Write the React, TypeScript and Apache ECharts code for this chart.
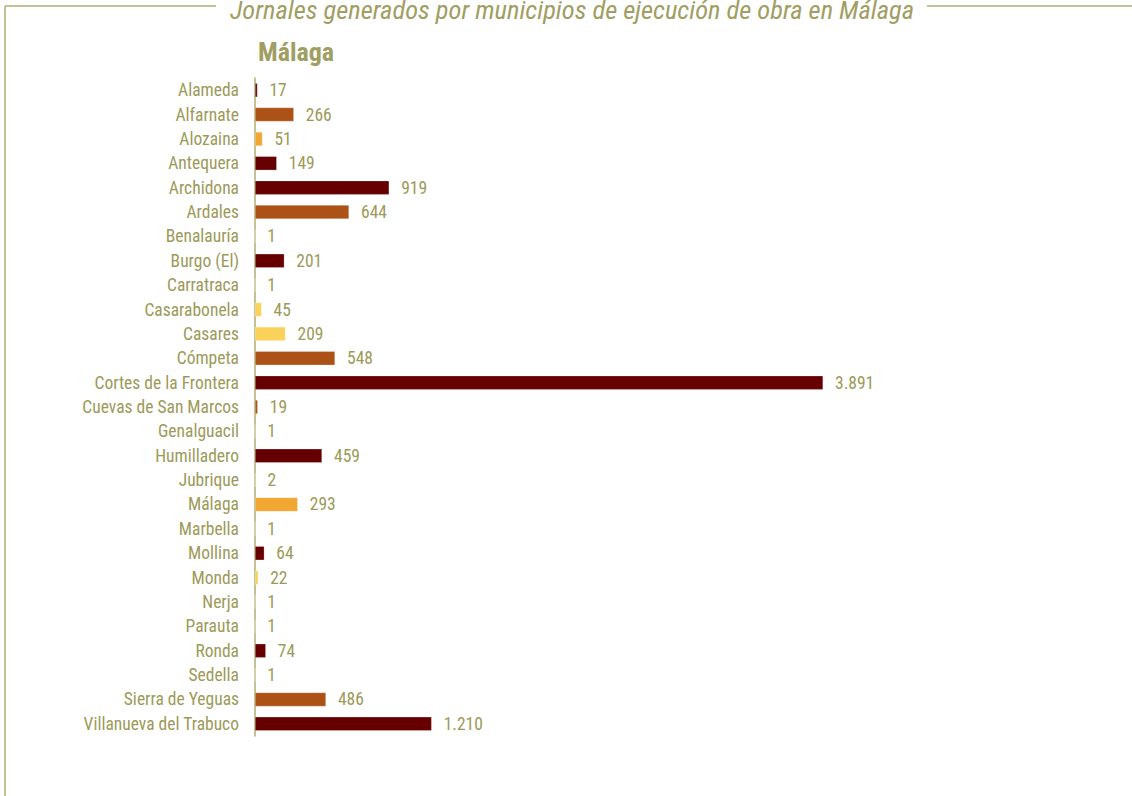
import React, { useEffect, useRef } from "react";
import * as echarts from "echarts";

const categories = [
  "Alameda", "Alfarnate", "Alozaina", "Antequera", "Archidona", "Ardales", "Benalauría",
  "Burgo (El)", "Carratraca", "Casarabonela", "Casares", "Cómpeta", "Cortes de la Frontera",
  "Cuevas de San Marcos", "Genalguacil", "Humilladero", "Jubrique", "Málaga", "Marbella",
  "Mollina", "Monda", "Nerja", "Parauta", "Ronda", "Sedella", "Sierra de Yeguas",
  "Villanueva del Trabuco",
];
const values = [17, 266, 51, 149, 919, 644, 1, 201, 1, 45, 209, 548, 3891, 19, 1, 459, 2, 293, 1, 64, 22, 1, 1, 74, 1, 486, 1210];
// colour group per municipality: 0 dark red, 1 orange, 2 light orange, 3 yellow
const groups = [0, 1, 2, 0, 0, 1, 3, 0, 3, 3, 3, 1, 0, 1, 3, 0, 3, 2, 3, 0, 3, 1, 3, 0, 1, 1, 0];
const palette = ["#660000", "#AD5217", "#F2A733", "#FAD25A"];

const TEXT = "#9C9A58";
const LINE = "#B0AC72";
const FONT = "'Liberation Sans Narrow', 'Roboto Condensed', 'DejaVu Sans Condensed', sans-serif";

const fmt = (v: number) => String(v).replace(/\B(?=(\d{3})+(?!\d))/g, ".");

export default function App() {
  const ref = useRef<HTMLDivElement>(null);
  useEffect(() => {
    const chart = echarts.init(ref.current!, undefined, { renderer: "svg" });
    chart.setOption({
      animation: false,
      backgroundColor: "#ffffff",
      grid: { left: 255, top: 78, width: 657, height: 658, containLabel: false },
      xAxis: {
        type: "value",
        min: 0,
        max: 4500,
        show: false,
      },
      yAxis: {
        type: "category",
        data: categories,
        inverse: true,
        axisLine: { show: true, lineStyle: { color: LINE, width: 1.5 } },
        axisTick: { show: false },
        axisLabel: { color: TEXT, fontSize: 17.5, fontFamily: FONT, margin: 16 },
        splitLine: { show: false },
      },
      series: [
        {
          type: "bar",
          barWidth: 14,
          data: values.map((v, i) => ({
            value: v,
            itemStyle: { color: palette[groups[i]], borderColor: "rgba(255,255,255,0.5)", borderWidth: 0.5 },
          })),
          label: {
            show: true,
            position: "right",
            distance: 12,
            color: TEXT,
            fontSize: 17.5,
            fontFamily: FONT,
            formatter: (p: any) => fmt(p.value),
          },
        },
      ],
      graphic: [
        { type: "line", shape: { x1: 5, y1: 6, x2: 216, y2: 6 }, style: { stroke: LINE, lineWidth: 1.5 } },
        { type: "line", shape: { x1: 927, y1: 6, x2: 1132, y2: 6 }, style: { stroke: LINE, lineWidth: 1.5 } },
        { type: "line", shape: { x1: 5, y1: 6, x2: 5, y2: 796 }, style: { stroke: LINE, lineWidth: 1.5 } },
        {
          type: "text",
          x: 572,
          y: 9,
          style: {
            text: "Jornales generados por municipios de ejecución de obra en Málaga",
            fill: "#A09E62",
            font: `italic 26.5px ${FONT}`,
            textAlign: "center",
            textVerticalAlign: "middle",
          },
        },
        {
          type: "text",
          x: 258,
          y: 52,
          style: {
            text: "Málaga",
            fill: "#A09E62",
            font: `bold 26px ${FONT}`,
            textAlign: "left",
            textVerticalAlign: "middle",
          },
        },
      ],
    });
    return () => chart.dispose();
  }, []);
  return (
    <div
      ref={ref}
      style={{ position: "fixed", left: 0, top: 0, width: 1132, height: 796 }}
    />
  );
}
